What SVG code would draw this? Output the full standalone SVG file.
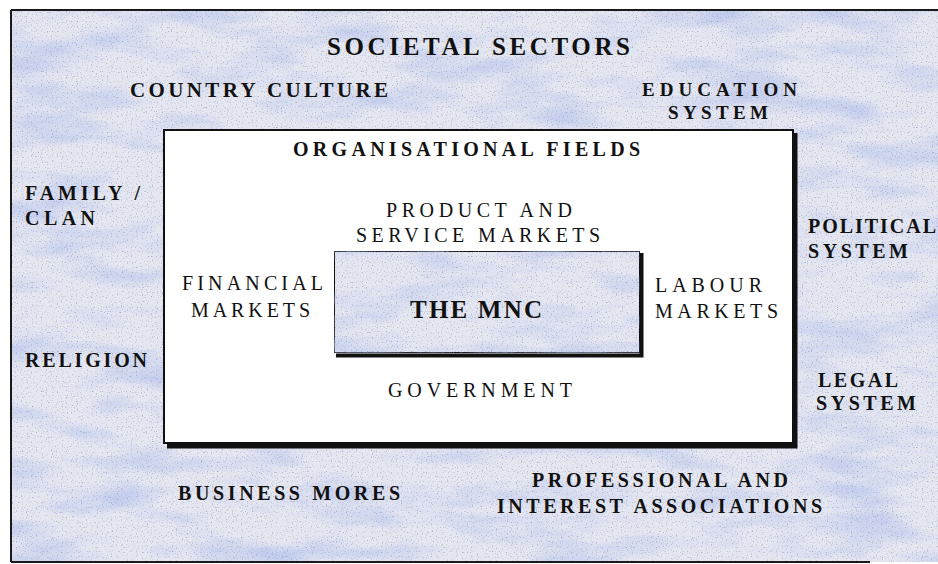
<svg xmlns="http://www.w3.org/2000/svg" width="938" height="564" viewBox="0 0 938 564">
<defs>
<filter id="tex" x="0" y="0" width="100%" height="100%" color-interpolation-filters="sRGB">
<feTurbulence type="fractalNoise" baseFrequency="0.01 0.035" numOctaves="4" seed="7" result="n"/>
<feColorMatrix in="n" type="matrix" values="0 0 0 0 0.72  0 0 0 0 0.77  0 0 0 0 0.93  1.9 0 0 0 -0.85" result="blue"/>
<feTurbulence type="fractalNoise" baseFrequency="0.8" numOctaves="1" seed="3" result="g"/>
<feColorMatrix in="g" type="matrix" values="0 0 0 0 0.55  0 0 0 0 0.58  0 0 0 0 0.74  3 0 0 0 -1.75" result="grain"/>
<feMerge><feMergeNode in="SourceGraphic"/><feMergeNode in="blue"/><feMergeNode in="grain"/></feMerge>
</filter>
<style>
.ob{font-family:"Liberation Serif","Times New Roman",serif;font-weight:bold;fill:#111;}
.ir{font-family:"Liberation Serif","Times New Roman",serif;fill:#111;}
</style>
</defs>
<rect x="0" y="0" width="938" height="564" fill="#ffffff"/>
<rect x="11" y="10" width="927" height="552" fill="#e4e6f0" filter="url(#tex)"/>
<path d="M11,10 H938 M11,10 V562 M11,562 H870" stroke="#1a1a1a" stroke-width="2" fill="none"/>

<g id="organisational-fields">
<rect x="164" y="130" width="629" height="313" fill="#ffffff" stroke="#111" stroke-width="2"/>
<path d="M795,133 V446 H167" stroke="#111" stroke-width="5" fill="none"/>
</g>
<g id="mnc">
<rect x="334" y="251" width="306" height="102" fill="#e4e6f0" filter="url(#tex)" stroke="#111" stroke-width="2"/>
<path d="M641.5,253 V355.5 H336" stroke="#111" stroke-width="4" fill="none"/>
<text class="ob" x="410" y="318" font-size="25" textLength="132" lengthAdjust="spacing">THE MNC</text>
</g>

<g id="societal-sectors"><text class="ob" x="327" y="55" font-size="25" textLength="303" lengthAdjust="spacing">SOCIETAL SECTORS</text></g>
<g id="country-culture"><text class="ob" x="130" y="97" font-size="21" textLength="258" lengthAdjust="spacing">COUNTRY CULTURE</text></g>
<g id="education-system">
<text class="ob" x="642" y="96" font-size="19" textLength="155" lengthAdjust="spacing">EDUCATION</text>
<text class="ob" x="668" y="119" font-size="19" textLength="100" lengthAdjust="spacing">SYSTEM</text>
</g>
<g id="family-clan">
<text class="ob" x="25" y="200" font-size="20" textLength="115" lengthAdjust="spacing">FAMILY /</text>
<text class="ob" x="25" y="225" font-size="20" textLength="70" lengthAdjust="spacing">CLAN</text>
</g>
<g id="religion"><text class="ob" x="25" y="367" font-size="20" textLength="122" lengthAdjust="spacing">RELIGION</text></g>
<g id="political-system">
<text class="ob" x="808" y="233" font-size="20" textLength="128" lengthAdjust="spacing">POLITICAL</text>
<text class="ob" x="808" y="258" font-size="20" textLength="100" lengthAdjust="spacing">SYSTEM</text>
</g>
<g id="legal-system">
<text class="ob" x="818" y="387" font-size="20" textLength="80" lengthAdjust="spacing">LEGAL</text>
<text class="ob" x="816" y="410" font-size="20" textLength="100" lengthAdjust="spacing">SYSTEM</text>
</g>
<g id="business-mores"><text class="ob" x="178" y="500" font-size="20" textLength="222" lengthAdjust="spacing">BUSINESS MORES</text></g>
<g id="professional-associations">
<text class="ob" x="532" y="487" font-size="20" textLength="256" lengthAdjust="spacing">PROFESSIONAL AND</text>
<text class="ob" x="497" y="513" font-size="20" textLength="325" lengthAdjust="spacing">INTEREST ASSOCIATIONS</text>
</g>

<g id="org-fields-label"><text class="ob" x="293" y="156" font-size="20" textLength="347" lengthAdjust="spacing">ORGANISATIONAL FIELDS</text></g>
<g id="product-service-markets">
<text class="ir" x="386" y="217" font-size="20" textLength="186" lengthAdjust="spacing">PRODUCT AND</text>
<text class="ir" x="356" y="242" font-size="20" textLength="244" lengthAdjust="spacing">SERVICE MARKETS</text>
</g>
<g id="financial-markets">
<text class="ir" x="182" y="290" font-size="20" textLength="141" lengthAdjust="spacing">FINANCIAL</text>
<text class="ir" x="191" y="317" font-size="20" textLength="119" lengthAdjust="spacing">MARKETS</text>
</g>
<g id="labour-markets">
<text class="ir" x="655" y="292" font-size="20" textLength="107" lengthAdjust="spacing">LABOUR</text>
<text class="ir" x="655" y="318" font-size="20" textLength="123" lengthAdjust="spacing">MARKETS</text>
</g>
<g id="government"><text class="ir" x="388" y="397" font-size="20" textLength="184" lengthAdjust="spacing">GOVERNMENT</text></g>
<g id="connectors"/>
</svg>
